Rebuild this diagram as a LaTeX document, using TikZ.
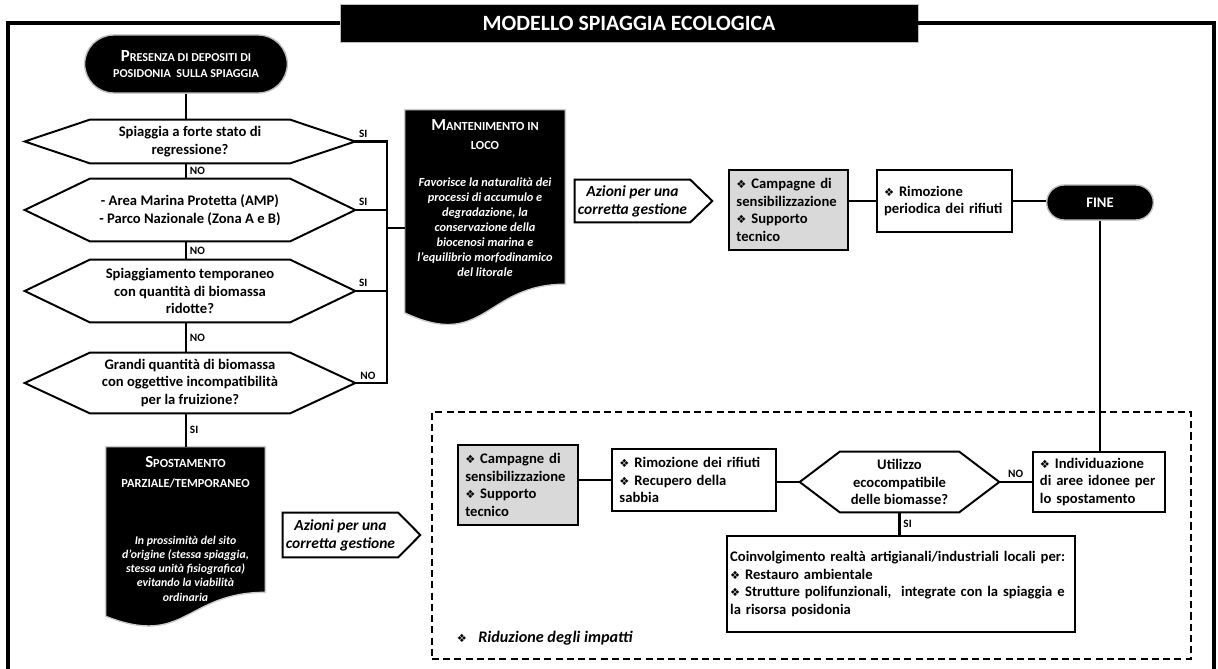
\documentclass[tikz,border=0pt]{standalone}
\usepackage{fontspec}
\setmainfont{Carlito}
\newfontfamily\dingfont{DejaVu Sans}
\usetikzlibrary{shapes.misc,calc}
\newcommand{\dia}{{\dingfont\fontsize{8}{8}\selectfont ❖}}
\newcommand{\bigc}[1]{{\fontsize{12}{12}\selectfont #1}}
\begin{document}
\begin{tikzpicture}[x=0.025cm, y=-0.025cm, font=\bfseries\fontsize{10.4}{12.6}\selectfont]
        \tikzstyle{term} = [rounded rectangle, fill=black, draw=black!25, line width=1pt, text=white, align=center]
        \tikzstyle{hexa} = [rectangle, inner sep=0pt, align=center]
        \tikzstyle{outline} = [line width=1.4pt]
        \tikzstyle{box} = [rectangle, draw, line width=1.3pt, align=left, inner xsep=5pt, inner ysep=2pt]
        \tikzstyle{greybox} = [box, fill=black!15]
        \tikzstyle{conn} = [line width=1.6pt]
        \tikzstyle{yesno} = [font=\bfseries\fontsize{8}{9}\selectfont, inner sep=2pt]
        \tikzstyle{doc} = [rectangle, inner sep=0pt]
        \tikzstyle{dochead} = [text=white, align=center, font=\bfseries\fontsize{8.8}{14}\selectfont]
        \tikzstyle{docbody} = [text=white, align=center, font=\bfseries\itshape\fontsize{8.8}{10.7}\selectfont]
        \tikzstyle{azioni} = [rectangle, inner sep=0pt, align=center, font=\bfseries\itshape\fontsize{11}{12.8}\selectfont]
        \tikzstyle{border} = [line width=2.2pt]

        \useasboundingbox (0,0) rectangle (1218,669);

        % title and frame
        \node (title) [rectangle, fill=black, draw=black!25, minimum width=14.45cm, minimum height=0.95cm, text=white, font=\bfseries\fontsize{15.5}{18}\selectfont] at (629,23) {MODELLO SPIAGGIA ECOLOGICA};
        \draw[border] (title.west) -- (8,23) -- (8,669);
        \draw[border] (title.east) -- (1214,23) -- (1214,669);

        % decision column
        \node (start) [term, minimum width=5.3cm, minimum height=1.45cm, font=\bfseries\fontsize{8.6}{11.8}\selectfont] at (186,64) {\bigc{P}RESENZA DI DEPOSITI DI\\POSIDONIA\ \ SULLA SPIAGGIA};
        \node (h1) [hexa, minimum width=8.25cm, minimum height=1.075cm] at (190,141.5) {Spiaggia a forte stato di\\regressione?};
        \node (h2) [hexa, minimum width=8.25cm, minimum height=1.55cm] at (190,210) {- Area Marina Protetta (AMP)\\- Parco Nazionale (Zona A e B)};
        \node (h3) [hexa, minimum width=8.25cm, minimum height=1.55cm] at (190,291) {Spiaggiamento temporaneo\\con quantità di biomassa\\ridotte?};
        \node (h4) [hexa, minimum width=8.25cm, minimum height=1.5cm] at (190,383) {Grandi quantità di biomassa\\con oggettive incompatibilità\\per la fruizione?};
        \foreach \h in {h1,h2,h3,h4}
            \draw[outline] (\h.west) -- ([xshift=1.625cm]\h.north west) -- ([xshift=-1.625cm]\h.north east) -- (\h.east) -- ([xshift=-1.625cm]\h.south east) -- ([xshift=1.625cm]\h.south west) -- cycle;

        % documents
        \node (mant) [doc, minimum width=4cm, minimum height=5.425cm] at (485,218.5) {};
        \node (spost) [doc, minimum width=3.975cm, minimum height=4.525cm] at (185.5,537.5) {};
        \foreach \d in {mant,spost}
            \filldraw[fill=black, draw=black!20, line width=1pt] (\d.north west) -- (\d.north east) -- ($(\d.south east)!0.198!(\d.north east)$) .. controls ($(\d.south)!0.198!(\d.north)$) and ($(\d.south)!-0.1075!(\d.north)$) .. ($(\d.south west)!0.066!(\d.north west)$) -- cycle;
        \node (manthead) [dochead] at (485,134.5) {\bigc{M}ANTENIMENTO IN\\LOCO};
        \node (mantbody) [docbody] at (485,227) {Favorisce la naturalità dei\\processi di accumulo e\\degradazione, la\\conservazione della\\biocenosi marina e\\l’equilibrio morfodinamico\\del litorale};
        \node (sposthead) [dochead] at (185.5,472) {\bigc{S}POSTAMENTO\\PARZIALE/TEMPORANEO};
        \node (spostbody) [docbody, font=\bfseries\itshape\fontsize{8.4}{10.1}\selectfont] at (185.5,568.5) {In prossimità del sito\\d’origine (stessa spiaggia,\\stessa unità fisiografica)\\evitando la viabilità\\ordinaria};

        \draw[conn] (start.south) -- (start.south |- h1.north);
        \draw[conn] (h1.south -| start.south) -- node[yesno, right] {NO} (h2.north -| start.south);
        \draw[conn] (h2.south -| start.south) -- node[yesno, right] {NO} (h3.north -| start.south);
        \draw[conn] (h3.south -| start.south) -- node[yesno, right] {NO} (h4.north -| start.south);
        \draw[conn] (h4.south -| start.south) -- node[yesno, right] {SI} (spost.north -| start.south);

        \coordinate (bus) at (387,228);
        \draw[conn] (h1.east) -- node[yesno, above, pos=0.25] {SI} (h1.east -| bus) -- (h4.east -| bus) -- (h4.east);
        \draw[conn] (h2.east) -- node[yesno, above, pos=0.25] {SI} (h2.east -| bus);
        \draw[conn] (h3.east) -- node[yesno, above, pos=0.25] {SI} (h3.east -| bus);
        \node[yesno, anchor=south west] at ([xshift=0.05cm]h4.east) {NO};
        \draw[conn] (bus) -- (bus -| mant.west);

        % actions
        \node (az1) [azioni, minimum width=2.875cm, minimum height=1.05cm] at (632.5,201) {Azioni per una\\corretta gestione};
        \node (az2) [azioni, minimum width=2.875cm, minimum height=1.1cm] at (340.5,535) {Azioni per una\\corretta gestione};
        \foreach \a in {az1,az2}
            \draw[outline] (\a.north west) -- (\a.north east) -- ([xshift=0.55cm]\a.east) -- (\a.south east) -- (\a.south west) -- cycle;

        \node (camp1) [greybox, minimum width=2.975cm, minimum height=2cm, text width=74pt] at (788.5,210) {\dia\ Campagne di\\sensibilizzazione\\\dia\ Supporto\\tecnico};
        \node (rim1) [box, minimum width=3.375cm, minimum height=1.55cm, text width=86pt] at (944.5,201) {\dia\ Rimozione\\periodica dei rifiuti};
        \node (fine) [term, minimum width=2.9cm, minimum height=0.875cm] at (1100,202.5) {FINE};
        \draw[conn] (camp1.east |- rim1.west) -- (rim1.west);
        \draw[conn] (rim1.east) -- (rim1.east -| fine.west);

        % impact reduction
        \node (zone) [rectangle, draw, line width=1.4pt, dash pattern=on 5pt off 3pt, minimum width=18.975cm, minimum height=6.175cm] at (811.5,535.5) {};
        \node (riduz) [anchor=west, font=\bfseries\itshape\fontsize{11.5}{13}\selectfont] at (452,638) {\dia\hspace{8pt}Riduzione degli impatti};
        \node (camp2) [greybox, minimum width=3cm, minimum height=2cm, text width=75pt] at (518,485) {\dia\ Campagne di\\sensibilizzazione\\\dia\ Supporto\\tecnico};
        \node (rim2) [box, minimum width=4.1cm, minimum height=1.55cm, text width=106pt] at (694,480) {\dia\ Rimozione dei rifiuti\\\dia\ Recupero della\\sabbia};
        \node (h5) [hexa, minimum width=4.975cm, minimum height=1.5cm] at (899.5,482) {Utilizzo\\ecocompatibile\\delle biomasse?};
        \draw[outline] (h5.west) -- ([xshift=1cm]h5.north west) -- ([xshift=-1cm]h5.north east) -- (h5.east) -- ([xshift=-1cm]h5.south east) -- ([xshift=1cm]h5.south west) -- cycle;
        \node (indiv) [box, minimum width=3.3cm, minimum height=1.5cm, text width=84pt] at (1099,482) {\dia\ Individuazione\\di aree idonee per\\lo spostamento};
        \node (coinv) [box, inner xsep=2pt, minimum width=8.7cm, minimum height=2.4cm, text width=243pt] at (901,584) {Coinvolgimento realtà artigianali/industriali locali per:\\\dia\ Restauro ambientale\\\dia\ Strutture polifunzionali,\ \ integrate con la spiaggia e\\la risorsa posidonia};

        \draw[conn] (camp2.east |- rim2.west) -- (rim2.west);
        \draw[conn] (rim2.east |- h5.west) -- (h5.west);
        \draw[conn] (h5.east) -- node[yesno, above] {NO} (indiv.west);
        \draw[conn] (h5.south) -- node[yesno, right] {SI} (h5.south |- coinv.north);
        \draw[conn] (fine.south) -- (fine.south |- indiv.north);

    \end{tikzpicture}
\end{document}
